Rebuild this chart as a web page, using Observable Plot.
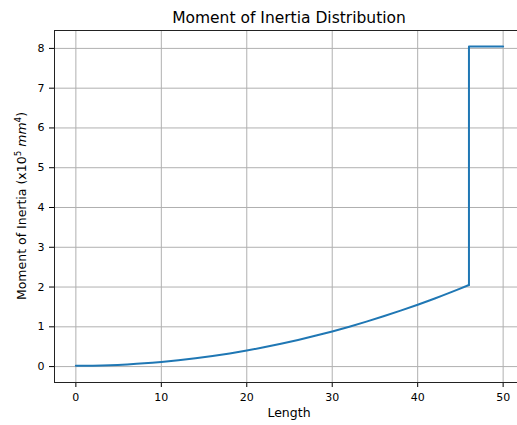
<!DOCTYPE html>
<html>
<head>
<meta charset="utf-8">
<script src="https://cdn.jsdelivr.net/npm/d3@7"></script>
<script src="https://cdn.jsdelivr.net/npm/@observablehq/plot@0.6"></script>
<style>
  html, body { margin: 0; padding: 0; background: #fff; overflow: hidden; }
  #chart svg { display: block; }
</style>
</head>
<body>
<div id="chart"></div>
<script>
// Moment of inertia along the member (x10^5 mm^4): tapered section, then a stiff end block.
const taperLengths = [0, 2, 4, 6, 8, 10, 12, 14, 16, 18, 20, 22, 24, 26, 28, 30, 32, 34, 36, 38, 40, 42, 44, 46];
const taperInertia = [0.020, 0.024, 0.035, 0.055, 0.081, 0.116, 0.158, 0.208, 0.266, 0.331, 0.404, 0.485, 0.573, 0.669, 0.773, 0.884, 1.003, 1.130, 1.264, 1.406, 1.556, 1.713, 1.879, 2.052];
const blockLengths = [46, 46, 50];
const blockInertia = [2.052, 8.05, 8.05];
const xTicks = [0, 10, 20, 30, 40, 50];
const yTicks = [0, 1, 2, 3, 4, 5, 6, 7, 8];
const titleText = "Moment of Inertia Distribution";
const xLabelText = "Length";

const taper = taperLengths.map((x, i) => ({x, y: taperInertia[i]}));
const block = blockLengths.map((x, i) => ({x, y: blockInertia[i]}));

const W = 517, H = 425;
const font = "DejaVu Sans";
const lineStyle = {x: "x", y: "y", stroke: "#1f77b4", strokeWidth: 2, strokeLinejoin: "round", strokeLinecap: "round"};

const plot = Plot.plot({
  width: W,
  height: H,
  marginTop: 30,
  marginBottom: 43,
  marginLeft: 54,
  marginRight: -7,
  style: {fontFamily: font, fontSize: "11px", color: "black", background: "white", overflow: "visible"},
  x: {domain: [-2.5, 52.5], ticks: xTicks, tickSize: 5, tickPadding: 6, label: null},
  y: {domain: [-0.4, 8.45], ticks: yTicks, tickSize: 5, tickPadding: 5, label: null},
  marks: [
    Plot.gridX(xTicks, {stroke: "#b0b0b0", strokeOpacity: 1, strokeWidth: 1}),
    Plot.gridY(yTicks, {stroke: "#b0b0b0", strokeOpacity: 1, strokeWidth: 1}),
    Plot.line(taper, {...lineStyle, curve: "catmull-rom"}),
    Plot.line(block, lineStyle),
    Plot.frame({stroke: "#222", strokeWidth: 1})
  ]
});

document.getElementById("chart").append(plot);

// Title and axis labels
const svg = d3.select(plot);
const [xa, xb] = plot.scale("x").range;
const [ya, yb] = plot.scale("y").range;
const cx = (xa + xb) / 2;
const cy = (ya + yb) / 2;

svg.append("text")
  .attr("x", cx).attr("y", 23.3)
  .attr("text-anchor", "middle")
  .attr("font-family", font).attr("font-size", 15.5)
  .attr("fill", "black")
  .text(titleText);

svg.append("text")
  .attr("x", cx).attr("y", 417)
  .attr("text-anchor", "middle")
  .attr("font-family", font).attr("font-size", 12.5)
  .attr("fill", "black")
  .text(xLabelText);

const yl = svg.append("text")
  .attr("transform", `translate(26,${cy}) rotate(-90)`)
  .attr("text-anchor", "middle")
  .attr("font-family", font).attr("font-size", 12.5)
  .attr("fill", "black");
yl.append("tspan").text("Moment of Inertia (x10");
yl.append("tspan").attr("dy", -5).attr("font-size", 8.8).text("5");
yl.append("tspan").attr("dy", 5).text(" ");
yl.append("tspan").attr("font-style", "italic").text("mm");
yl.append("tspan").attr("dy", -5).attr("font-size", 8.8).text("4");
yl.append("tspan").attr("dy", 5).text(")");
</script>
</body>
</html>
